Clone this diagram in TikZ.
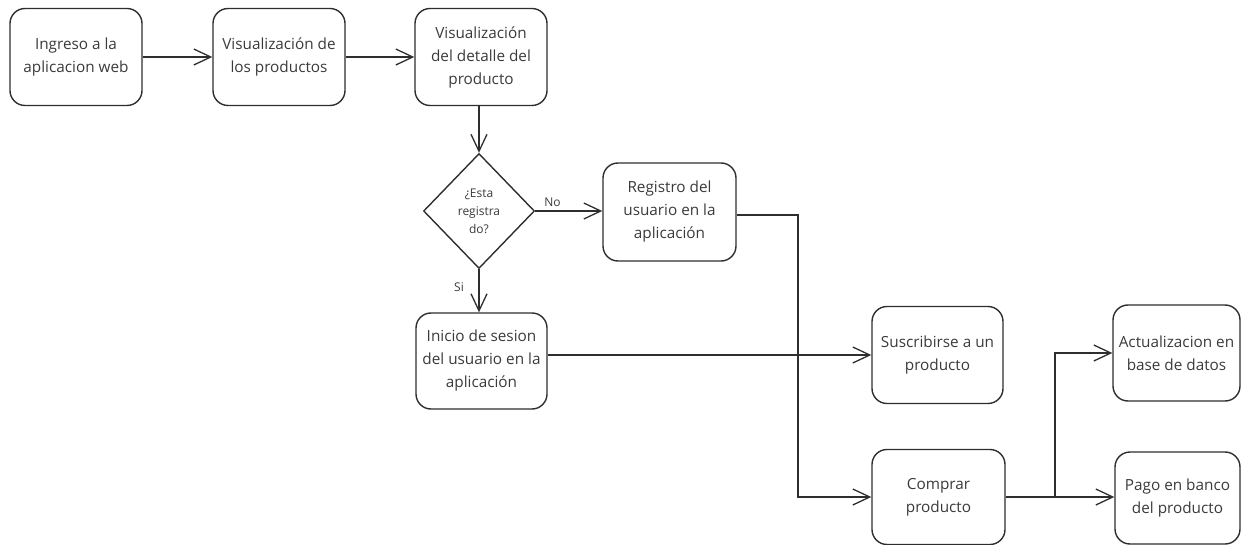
\documentclass[tikz,border=0pt]{standalone}
\usepackage{fontspec}
\setmainfont{Open Sans}
\usetikzlibrary{arrows.meta,shapes.geometric}
\definecolor{ln}{HTML}{2E2E2E}
\definecolor{tx}{HTML}{3A3A3A}
\tikzset{
  box/.style={draw=ln, line width=1.4pt, rounded corners=15pt, align=center,
    minimum width=132pt, minimum height=97pt, inner sep=1pt, text=tx,
    font=\fontsize{15.3}{23}\selectfont},
  decision/.style={draw=ln, line width=1.4pt, diamond, align=center, inner sep=0pt,
    minimum width=111pt, minimum height=115pt, text=tx,
    font=\fontsize{12}{18}\selectfont},
  arr/.style={draw=ln, line width=1.3pt, -{Straight Barb[length=17pt,width=16pt,line width=1.3pt]}},
  lbl/.style={text=tx, font=\fontsize{12}{14}\selectfont, inner sep=1pt}
}
\begin{document}
\begin{tikzpicture}[x=1pt,y=-1pt]
\useasboundingbox (0,0) rectangle (1242,545);
\node[box] (b1) at (76,57) {Ingreso a la\\aplicacion web};
\node[box] (b2) at (279,57) {Visualización de\\los productos};
\node[box] (b3) at (481,57) {Visualización\\del detalle del\\producto};
\node[decision] (d) at (479,211) {¿Esta\\registra\\do?};
\node[box, minimum height=98pt, minimum width=133pt] (reg) at (669.5,212) {Registro del\\usuario en la\\aplicación};
\node[box, minimum width=131pt, minimum height=96pt] (ini) at (481.5,361) {Inicio de sesion\\del usuario en la\\aplicación};
\node[box, minimum width=131pt] (sus) at (937.5,355) {Suscribirse a un\\producto};
\node[box, minimum width=133pt, minimum height=95pt] (com) at (938.5,497) {Comprar\\producto};
\node[box, minimum width=127pt, minimum height=96pt] (act) at (1176.5,353) {Actualizacion en\\base de datos};
\node[box, minimum width=125pt, minimum height=92pt] (pag) at (1177.5,498) {Pago en banco\\del producto};
\coordinate (j1) at (798,0);
\coordinate (j2) at (1055,0);

\draw[arr] (b1.east) -- (b2.west);
\draw[arr] (b2.east) -- (b3.west);
\draw[arr] (d.north |- b3.south) -- (d.north);
\draw[arr] (d.east) -- (reg.west |- d.east);
\node[lbl, anchor=south west] (no) at ([xshift=8pt,yshift=3pt]d.east) {No};
\draw[arr] (d.south) -- (d.south |- ini.north);
\node[lbl, anchor=north east] (si) at ([xshift=-14pt,yshift=-12pt]d.south) {Si};
\draw[arr] (ini.east |- sus.west) -- (sus.west);
\draw[arr] ([yshift=-3pt]reg.east) -- ([yshift=-3pt]reg.east -| j1) -- (j1 |- com.west) -- (com.west);
\draw[line width=1.3pt, draw=ln] (com.east) -- (com.east -| j2);
\draw[arr] (com.east -| j2) -- (j2 |- act.west) -- (act.west);
\draw[arr] (com.east -| j2) -- (pag.west |- com.east);
\end{tikzpicture}
\end{document}
